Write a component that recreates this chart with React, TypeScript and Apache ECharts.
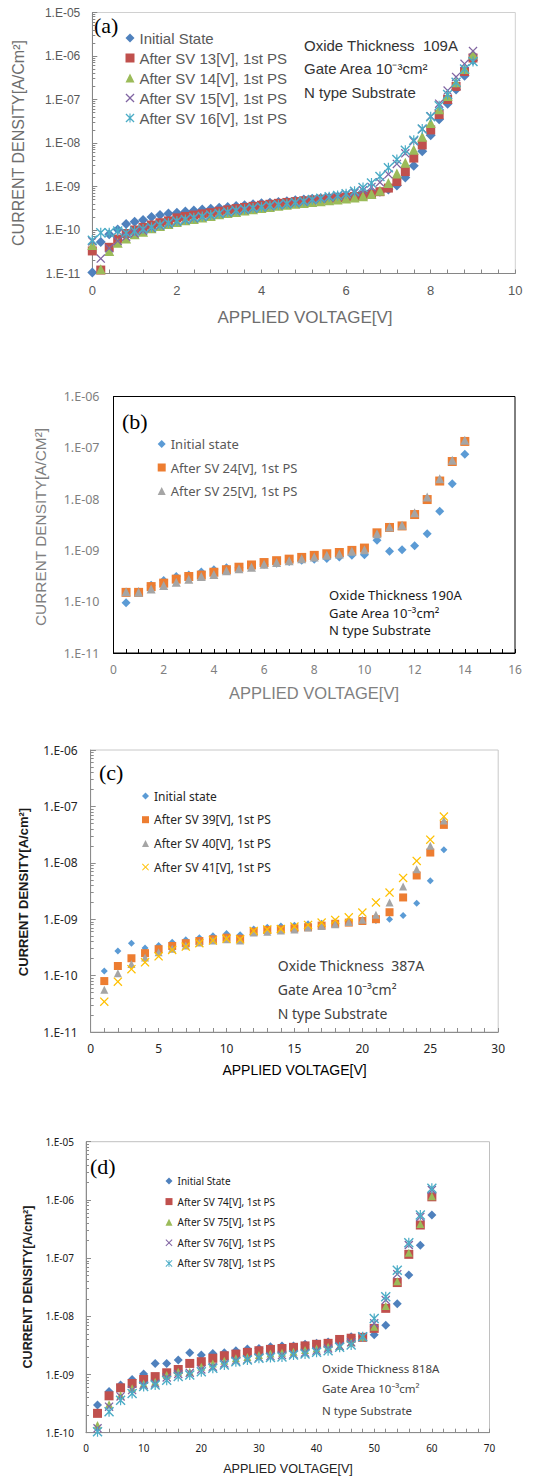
import React, { useEffect, useRef } from 'react';
import * as echarts from 'echarts';

// ---------- Panel (a) ----------
const aVoltage = [0, 0.2, 0.4, 0.6, 0.8, 1, 1.2, 1.4, 1.6, 1.8, 2, 2.2, 2.4, 2.6, 2.8, 3, 3.2, 3.4, 3.6, 3.8, 4, 4.2, 4.4, 4.6, 4.8, 5, 5.2, 5.4, 5.6, 5.8, 6, 6.2, 6.4, 6.6, 6.8, 7, 7.2, 7.4, 7.6, 7.8, 8, 8.2, 8.4, 8.6, 8.8, 9];
const aInitial = [1.05e-11, 5.3e-11, 8e-11, 1.03e-10, 1.37e-10, 1.55e-10, 1.7e-10, 2.0e-10, 2.2e-10, 2.4e-10, 2.5e-10, 2.65e-10, 2.8e-10, 2.95e-10, 3.1e-10, 3.25e-10, 3.4e-10, 3.55e-10, 3.7e-10, 3.9e-10, 4.1e-10, 4.25e-10, 4.4e-10, 4.6e-10, 4.8e-10, 5.0e-10, 5.2e-10, 5.4e-10, 5.6e-10, 5.9e-10, 6.2e-10, 6.5e-10, 6.8e-10, 7.2e-10, 7.6e-10, 8.5e-10, 1.05e-9, 1.6e-9, 3.0e-9, 6.5e-9, 1.5e-8, 3.5e-8, 8e-8, 1.7e-7, 3.5e-7, 8e-7];
const aSV13 = [3.3e-11, 1.2e-11, 4.0e-11, 6.2e-11, 8.3e-11, 1.0e-10, 1.15e-10, 1.3e-10, 1.47e-10, 1.62e-10, 1.9e-10, 2.05e-10, 2.2e-10, 2.35e-10, 2.5e-10, 2.7e-10, 2.9e-10, 3.1e-10, 3.3e-10, 3.5e-10, 3.7e-10, 3.9e-10, 4.1e-10, 4.3e-10, 4.5e-10, 4.7e-10, 4.9e-10, 5.1e-10, 5.3e-10, 5.5e-10, 5.7e-10, 5.9e-10, 6.2e-10, 6.6e-10, 7.6e-10, 9.2e-10, 1.3e-9, 2.2e-9, 4.5e-9, 9e-9, 2e-8, 4.5e-8, 1e-7, 2e-7, 4.4e-7, 9e-7];
const aSV14 = [4.5e-11, 1.25e-11, 3.3e-11, 5.1e-11, 6.4e-11, 8e-11, 9.1e-11, 1.09e-10, 1.23e-10, 1.37e-10, 1.53e-10, 1.68e-10, 1.8e-10, 1.95e-10, 2.1e-10, 2.3e-10, 2.45e-10, 2.6e-10, 2.8e-10, 3.0e-10, 3.2e-10, 3.4e-10, 3.6e-10, 3.8e-10, 4.0e-10, 4.2e-10, 4.4e-10, 4.6e-10, 4.8e-10, 5.0e-10, 5.3e-10, 5.6e-10, 6.0e-10, 6.7e-10, 8e-10, 1.2e-9, 2e-9, 3.5e-9, 7e-9, 1.4e-8, 2.9e-8, 6e-8, 1.2e-7, 2.5e-7, 5e-7, 1.1e-6];
const aSV15 = [5.5e-11, 2.2e-11, 3.8e-11, 5.6e-11, 7.0e-11, 8.3e-11, 9.6e-11, 1.1e-10, 1.25e-10, 1.4e-10, 1.55e-10, 1.7e-10, 1.85e-10, 2.0e-10, 2.15e-10, 2.35e-10, 2.5e-10, 2.7e-10, 2.9e-10, 3.1e-10, 3.3e-10, 3.5e-10, 3.7e-10, 3.9e-10, 4.1e-10, 4.4e-10, 4.8e-10, 5.2e-10, 5.6e-10, 6.0e-10, 6.6e-10, 7.2e-10, 8.2e-10, 9.8e-10, 1.25e-9, 1.9e-9, 3.3e-9, 5.8e-9, 1.1e-8, 2.1e-8, 4.1e-8, 8e-8, 1.6e-7, 3.3e-7, 6.6e-7, 1.3e-6];
const aSV16 = [5.8e-11, 8.6e-11, 8.6e-11, 9.5e-11, 8.5e-11, 9.5e-11, 1.05e-10, 1.15e-10, 1.3e-10, 1.45e-10, 1.6e-10, 1.75e-10, 1.9e-10, 2.05e-10, 2.2e-10, 2.4e-10, 2.6e-10, 2.8e-10, 3.0e-10, 3.2e-10, 3.4e-10, 3.6e-10, 3.8e-10, 4.0e-10, 4.3e-10, 4.6e-10, 5.0e-10, 5.4e-10, 5.8e-10, 6.2e-10, 6.8e-10, 7.8e-10, 9.5e-10, 1.2e-9, 1.7e-9, 2.7e-9, 4.2e-9, 6.8e-9, 1.15e-8, 2.1e-8, 4e-8, 7.2e-8, 1.3e-7, 2.5e-7, 5e-7, 7.5e-7];
const aNames = ['Initial State', 'After SV 13[V], 1st PS', 'After SV 14[V], 1st PS', 'After SV 15[V], 1st PS', 'After SV 16[V], 1st PS'];

// ---------- Panel (b) ----------
const bVoltage = [0.5, 1, 1.5, 2, 2.5, 3, 3.5, 4, 4.5, 5, 5.5, 6, 6.5, 7, 7.5, 8, 8.5, 9, 9.5, 10, 10.5, 11, 11.5, 12, 12.5, 13, 13.5, 14];
const bInitial = [9.5e-11, 1.57e-10, 2.1e-10, 2.6e-10, 3.1e-10, 3.3e-10, 3.8e-10, 4.2e-10, 4.6e-10, 4.6e-10, 5.0e-10, 5.4e-10, 5.6e-10, 6.1e-10, 6.4e-10, 6.75e-10, 6.95e-10, 7.4e-10, 8.0e-10, 8.2e-10, 1.58e-9, 9.6e-10, 1.03e-9, 1.23e-9, 2.1e-9, 5.8e-9, 2.0e-8, 7.5e-8];
const bSV24 = [1.52e-10, 1.52e-10, 1.97e-10, 2.3e-10, 2.75e-10, 3.1e-10, 3.3e-10, 3.75e-10, 4.2e-10, 4.7e-10, 5.2e-10, 5.8e-10, 6.3e-10, 6.75e-10, 7.3e-10, 8.0e-10, 8.6e-10, 9.1e-10, 1.0e-9, 1.11e-9, 2.2e-9, 2.8e-9, 3.0e-9, 5.0e-9, 9.8e-9, 2.25e-8, 5.4e-8, 1.33e-7];
const bSV25 = [1.57e-10, 1.52e-10, 1.77e-10, 2.06e-10, 2.4e-10, 2.75e-10, 3.1e-10, 3.4e-10, 4.0e-10, 4.4e-10, 4.7e-10, 5.4e-10, 5.8e-10, 6.3e-10, 6.9e-10, 7.4e-10, 8.0e-10, 8.5e-10, 9.6e-10, 1.03e-9, 2.1e-9, 2.85e-9, 3.1e-9, 5.4e-9, 1.1e-8, 2.5e-8, 5.7e-8, 1.4e-7];
const bNames = ['Initial state', 'After SV 24[V], 1st PS', 'After SV 25[V], 1st PS'];

// ---------- Panel (c) ----------
const cVoltage = [1, 2, 3, 4, 5, 6, 7, 8, 9, 10, 11, 12, 13, 14, 15, 16, 17, 18, 19, 20, 21, 22, 23, 24, 25, 26];
const cInitial = [1.21e-10, 2.74e-10, 3.75e-10, 3.1e-10, 3.4e-10, 3.9e-10, 4.3e-10, 4.7e-10, 5.1e-10, 5.6e-10, 5.3e-10, 6.7e-10, 7.2e-10, 7.6e-10, 7.8e-10, 8.3e-10, 8.5e-10, 8.9e-10, 9.1e-10, 9.5e-10, 9.5e-10, 1.0e-9, 1.16e-9, 1.92e-9, 4.8e-9, 1.7e-8];
const cSV39 = [8e-11, 1.48e-10, 2.03e-10, 2.5e-10, 2.94e-10, 3.35e-10, 3.75e-10, 4.1e-10, 4.4e-10, 4.7e-10, 4.5e-10, 6.0e-10, 6.45e-10, 6.6e-10, 6.9e-10, 7.2e-10, 7.7e-10, 8.3e-10, 8.7e-10, 9.3e-10, 1.0e-9, 1.33e-9, 2.43e-9, 5.96e-9, 1.52e-8, 4.7e-8];
const cSV40 = [5.6e-11, 1.1e-10, 1.6e-10, 2.1e-10, 2.6e-10, 3.0e-10, 3.4e-10, 3.85e-10, 4.2e-10, 4.4e-10, 4.2e-10, 5.8e-10, 6.0e-10, 6.3e-10, 6.6e-10, 7.1e-10, 7.6e-10, 8.1e-10, 8.9e-10, 9.8e-10, 1.2e-9, 1.98e-9, 3.8e-9, 7.7e-9, 2.0e-8, 5.6e-8];
const cSV41 = [3.45e-11, 7.8e-11, 1.3e-10, 1.72e-10, 2.2e-10, 2.85e-10, 3.27e-10, 3.75e-10, 4.2e-10, 4.5e-10, 4.4e-10, 6.2e-10, 6.6e-10, 6.7e-10, 7.4e-10, 7.9e-10, 8.7e-10, 9.7e-10, 1.08e-9, 1.31e-9, 1.98e-9, 2.97e-9, 5.4e-9, 1.08e-8, 2.57e-8, 6.6e-8];
const cNames = ['Initial state ', 'After SV 39[V], 1st PS', 'After SV 40[V], 1st PS', 'After SV 41[V], 1st PS'];

// ---------- Panel (d) ----------
const dVoltage = [2, 4, 6, 8, 10, 12, 14, 16, 18, 20, 22, 24, 26, 28, 30, 32, 34, 36, 38, 40, 42, 44, 46, 48, 50, 52, 54, 56, 58, 60];
const dInitial = [2.99e-10, 5.1e-10, 6.6e-10, 8.2e-10, 1.02e-9, 1.55e-9, 1.55e-9, 1.77e-9, 2.37e-9, 2.16e-9, 2.3e-9, 2.37e-9, 2.56e-9, 2.75e-9, 2.8e-9, 3.0e-9, 3.1e-9, 3.1e-9, 3.3e-9, 3.43e-9, 3.6e-9, 3.9e-9, 4.45e-9, 4.45e-9, 4.8e-9, 7e-9, 1.65e-8, 5.1e-8, 1.67e-7, 5.5e-7];
const dSV74 = [2.15e-10, 4.3e-10, 5.9e-10, 7.0e-10, 8.2e-10, 9.2e-10, 1.07e-9, 1.22e-9, 1.55e-9, 1.66e-9, 1.9e-9, 2.1e-9, 2.24e-9, 2.4e-9, 2.56e-9, 2.7e-9, 2.8e-9, 2.93e-9, 3.1e-9, 3.3e-9, 3.43e-9, 4.0e-9, 4.2e-9, 4.35e-9, 6.2e-9, 1.37e-8, 3.8e-8, 1.16e-7, 3.7e-7, 1.13e-6];
const dSV75 = [1.35e-10, 3.07e-10, 4.4e-10, 5.8e-10, 7e-10, 7.5e-10, 9.8e-10, 1.12e-9, 1.12e-9, 1.36e-9, 1.55e-9, 1.73e-9, 1.9e-9, 2.0e-9, 2.16e-9, 2.3e-9, 2.37e-9, 2.46e-9, 2.63e-9, 2.8e-9, 3.0e-9, 3.1e-9, 3.57e-9, 4.45e-9, 6.6e-9, 1.5e-8, 4.0e-8, 1.24e-7, 3.85e-7, 1.16e-6];
const dSV76 = [1.19e-10, 2.8e-10, 4.2e-10, 5.4e-10, 6.6e-10, 7e-10, 8.9e-10, 1.02e-9, 1.07e-9, 1.22e-9, 1.36e-9, 1.55e-9, 1.73e-9, 1.82e-9, 1.95e-9, 2.07e-9, 2.16e-9, 2.24e-9, 2.37e-9, 2.56e-9, 2.8e-9, 3.1e-9, 3.57e-9, 4.45e-9, 7.6e-9, 1.9e-8, 5.3e-8, 1.68e-7, 5.1e-7, 1.48e-6];
const dSV78 = [1.04e-10, 2.3e-10, 3.6e-10, 4.7e-10, 6.2e-10, 6.6e-10, 8e-10, 9.2e-10, 9.8e-10, 1.12e-9, 1.28e-9, 1.45e-9, 1.66e-9, 1.77e-9, 1.9e-9, 1.95e-9, 2.0e-9, 2.16e-9, 2.24e-9, 2.4e-9, 2.56e-9, 2.93e-9, 3.2e-9, 4.45e-9, 9.2e-9, 2.17e-8, 6.2e-8, 1.84e-7, 5.5e-7, 1.58e-6];
const dNames = ['Initial State ', 'After SV 74[V], 1st PS', 'After SV 75[V], 1st PS', 'After SV 76[V], 1st PS', 'After SV 78[V], 1st PS'];

const X_PATH = 'path://M1,0L5,4L9,0L10,1L6,5L10,9L9,10L5,6L1,10L0,9L4,5L0,1Z';
const STAR_PATH = 'path://M1,0L5,4L9,0L10,1L6,5L10,9L9,10L5,6L1,10L0,9L4,5L0,1ZM4.4,0L5.6,0L5.6,10L4.4,10Z';

const SANS = '"Liberation Sans", Arial, sans-serif';
const NOTO = '"Noto Sans", "Liberation Sans", sans-serif';
const SERIF = '"Liberation Serif", "DejaVu Serif", serif';

function expLabel(v: number) {
  const e = Math.round(Math.log10(v));
  return '1.E' + (e < 0 ? '-' : '+') + String(Math.abs(e)).padStart(2, '0');
}

function sc(name: string, xs: number[], ys: number[], gi: number, symbol: string, size: number, color: string) {
  return {
    type: 'scatter', name, xAxisIndex: gi, yAxisIndex: gi,
    data: xs.map((x, i) => [x, ys[i]]),
    symbol, symbolSize: size,
    itemStyle: { color, opacity: 1 },
    emphasis: { disabled: true }, silent: true,
  };
}

function txt(x: number, y: number, text: string, font: string, fill: string, align = 'left', rotation = 0) {
  return {
    type: 'text', x, y, rotation, silent: true,
    style: { text, font, fill, textAlign: align, textVerticalAlign: 'middle', align, verticalAlign: 'middle' },
  };
}

function xAxisCfg(gi: number, max: number, interval: number, minor: number, color: string, labelColor: string, labelSize: number, font: string) {
  return {
    type: 'value', gridIndex: gi, min: 0, max, interval,
    axisLine: { show: true, onZero: false, lineStyle: { color, width: 1 } },
    axisTick: { show: true, inside: true, length: 4, lineStyle: { color } },
    minorTick: { show: true, splitNumber: minor, length: 4, lineStyle: { color } },
    splitLine: { show: false },
    axisLabel: { color: labelColor, fontSize: labelSize, margin: 10, fontFamily: font },
  };
}

function yAxisCfg(gi: number, min: number, max: number, color: string, labelColor: string, labelSize: number, font: string, ticks: boolean, margin: number) {
  return {
    type: 'log', logBase: 10, gridIndex: gi, min, max,
    axisLine: { show: true, lineStyle: { color, width: 1 } },
    axisTick: { show: ticks, inside: true, length: 5, lineStyle: { color } },
    minorTick: { show: ticks, splitNumber: 9, length: 3, lineStyle: { color } },
    splitLine: { show: false },
    axisLabel: { color: labelColor, fontSize: labelSize, margin, fontFamily: font, formatter: expLabel },
  };
}

export default function App() {
  const ref = useRef<HTMLDivElement>(null);
  useEffect(() => {
    document.body.style.margin = '0';
    const chart = echarts.init(ref.current!, null, { renderer: 'svg' });
    const option: any = {
      animation: false,
      backgroundColor: '#ffffff',
      grid: [
        { left: 92.3, top: 12.5, width: 423, height: 261, show: true, borderColor: '#d0d0d0', borderWidth: 1 },
        { left: 113.5, top: 396.5, width: 401.5, height: 256.5, show: true, borderColor: '#000000', borderWidth: 1 },
        { left: 90.7, top: 750, width: 407.5, height: 282, show: true, borderColor: '#c8c8c8', borderWidth: 1 },
        { left: 86, top: 1141.7, width: 403.5, height: 291, show: true, borderColor: '#c0c0c0', borderWidth: 1 },
      ],
      xAxis: [
        xAxisCfg(0, 10, 2, 5, '#868686', '#595959', 13, SANS),
        xAxisCfg(1, 16, 2, 4, '#000000', '#7f7f7f', 12, NOTO),
        xAxisCfg(2, 30, 5, 5, '#8c8c8c', '#262626', 12, NOTO),
        xAxisCfg(3, 70, 10, 5, '#8c8c8c', '#1a1a1a', 10, NOTO),
      ],
      yAxis: [
        yAxisCfg(0, 1e-11, 1e-5, '#868686', '#595959', 12, SANS, true, 12),
        yAxisCfg(1, 1e-11, 1e-6, '#000000', '#7f7f7f', 12.5, NOTO, false, 14),
        yAxisCfg(2, 1e-11, 1e-6, '#8c8c8c', '#262626', 12, NOTO, true, 13),
        yAxisCfg(3, 1e-10, 1e-5, '#8c8c8c', '#1a1a1a', 10, NOTO, true, 12),
      ],
      legend: [
        { data: aNames, orient: 'vertical', left: 125.5, top: 30.5, padding: 0, itemWidth: 9, itemHeight: 9, itemGap: 5, selectedMode: false, textStyle: { fontSize: 15, color: '#595959', fontFamily: SANS } },
        { data: bNames, orient: 'vertical', left: 157.7, top: 437.5, padding: 0, itemWidth: 8, itemHeight: 8, itemGap: 10.5, selectedMode: false, textStyle: { fontSize: 13, color: '#595959', fontFamily: NOTO } },
        { data: cNames, orient: 'vertical', left: 142, top: 790, padding: 0, itemWidth: 7, itemHeight: 7, itemGap: 11.7, selectedMode: false, textStyle: { fontSize: 12, color: '#262626', fontFamily: NOTO } },
        { data: dNames, orient: 'vertical', left: 165.5, top: 1176, padding: 0, itemWidth: 7, itemHeight: 7, itemGap: 10.6, selectedMode: false, textStyle: { fontSize: 10, color: '#1a1a1a', fontFamily: NOTO } },
      ],
      series: [
        sc(aNames[0], aVoltage, aInitial, 0, 'diamond', 10, '#4F81BD'),
        sc(aNames[1], aVoltage, aSV13, 0, 'rect', 9, '#C0504D'),
        sc(aNames[2], aVoltage, aSV14, 0, 'triangle', 10, '#9BBB59'),
        sc(aNames[3], aVoltage, aSV15, 0, X_PATH, 9, '#8064A2'),
        sc(aNames[4], aVoltage, aSV16, 0, STAR_PATH, 10, '#4BACC6'),
        sc(bNames[0], bVoltage, bInitial, 1, 'diamond', 9, '#5B9BD5'),
        sc(bNames[1], bVoltage, bSV24, 1, 'rect', 9, '#ED7D31'),
        sc(bNames[2], bVoltage, bSV25, 1, 'triangle', 9, '#A5A5A5'),
        sc(cNames[0], cVoltage, cInitial, 2, 'diamond', 7, '#5B9BD5'),
        sc(cNames[1], cVoltage, cSV39, 2, 'rect', 8, '#ED7D31'),
        sc(cNames[2], cVoltage, cSV40, 2, 'triangle', 8, '#A5A5A5'),
        sc(cNames[3], cVoltage, cSV41, 2, X_PATH, 9, '#FFC000'),
        sc(dNames[0], dVoltage, dInitial, 3, 'diamond', 9, '#4F81BD'),
        sc(dNames[1], dVoltage, dSV74, 3, 'rect', 9, '#C0504D'),
        sc(dNames[2], dVoltage, dSV75, 3, 'triangle', 8, '#9BBB59'),
        sc(dNames[3], dVoltage, dSV76, 3, X_PATH, 9, '#8064A2'),
        sc(dNames[4], dVoltage, dSV78, 3, STAR_PATH, 10, '#4BACC6'),
      ],
      graphic: [
        // panel a
        txt(94, 25, '(a)', '22px ' + SERIF, '#000000'),
        txt(304, 45, 'Oxide Thickness  109A', '15px ' + SANS, '#333333'),
        txt(304, 68, 'Gate Area 10⁻³cm²', '15px ' + SANS, '#333333'),
        txt(304, 92, 'N type Substrate', '15px ' + SANS, '#333333'),
        txt(305, 317, 'APPLIED VOLTAGE[V]', '17px ' + SANS, '#6e6e6e', 'center'),
        txt(18, 143, 'CURRENT DENSITY[A/Cm²]', '16px ' + SANS, '#6e6e6e', 'center', Math.PI / 2),
        // panel b
        txt(122, 421, '(b)', '22px ' + SERIF, '#000000'),
        txt(329, 595, 'Oxide Thickness 190A', '13px ' + NOTO, '#1a1a1a'),
        txt(329, 612.7, 'Gate Area 10⁻³cm²', '13px ' + NOTO, '#1a1a1a'),
        txt(329, 630, 'N type Substrate', '13px ' + NOTO, '#1a1a1a'),
        txt(314, 693, 'APPLIED VOLTAGE[V]', '16.5px ' + SANS, '#7f7f7f', 'center'),
        txt(40, 527, 'CURRENT DENSITY[A/CM²]', '15.4px ' + SANS, '#7f7f7f', 'center', Math.PI / 2),
        // panel c
        txt(99, 772, '(c)', '22px ' + SERIF, '#000000'),
        txt(277.7, 965, 'Oxide Thickness  387A', '14px ' + NOTO, '#404040'),
        txt(277.7, 989, 'Gate Area 10⁻³cm²', '14px ' + NOTO, '#404040'),
        txt(277.7, 1013, 'N type Substrate', '14px ' + NOTO, '#404040'),
        txt(294.5, 1070, 'APPLIED VOLTAGE[V]', '14px ' + SANS, '#000000', 'center'),
        txt(23, 892, 'CURRENT DENSITY[A/cm²]', 'bold 13px ' + SANS, '#1a1a1a', 'center', Math.PI / 2),
        // panel d
        txt(90, 1166, '(d)', '22px ' + SERIF, '#000000'),
        txt(322, 1368, 'Oxide Thickness 818A', '11.5px ' + NOTO, '#444444'),
        txt(322, 1388.7, 'Gate Area 10⁻³cm²', '11.5px ' + NOTO, '#444444'),
        txt(322, 1410, 'N type Substrate', '11.5px ' + NOTO, '#444444'),
        txt(288, 1469, 'APPLIED VOLTAGE[V]', '12.6px ' + SANS, '#222222', 'center'),
        txt(28, 1287, 'CURRENT DENSITY[A/cm²]', 'bold 12.6px ' + SANS, '#222222', 'center', Math.PI / 2),
      ],
    };
    chart.setOption(option);
    return () => chart.dispose();
  }, []);
  return <div ref={ref} style={{ width: 535, height: 1479 }} />;
}
